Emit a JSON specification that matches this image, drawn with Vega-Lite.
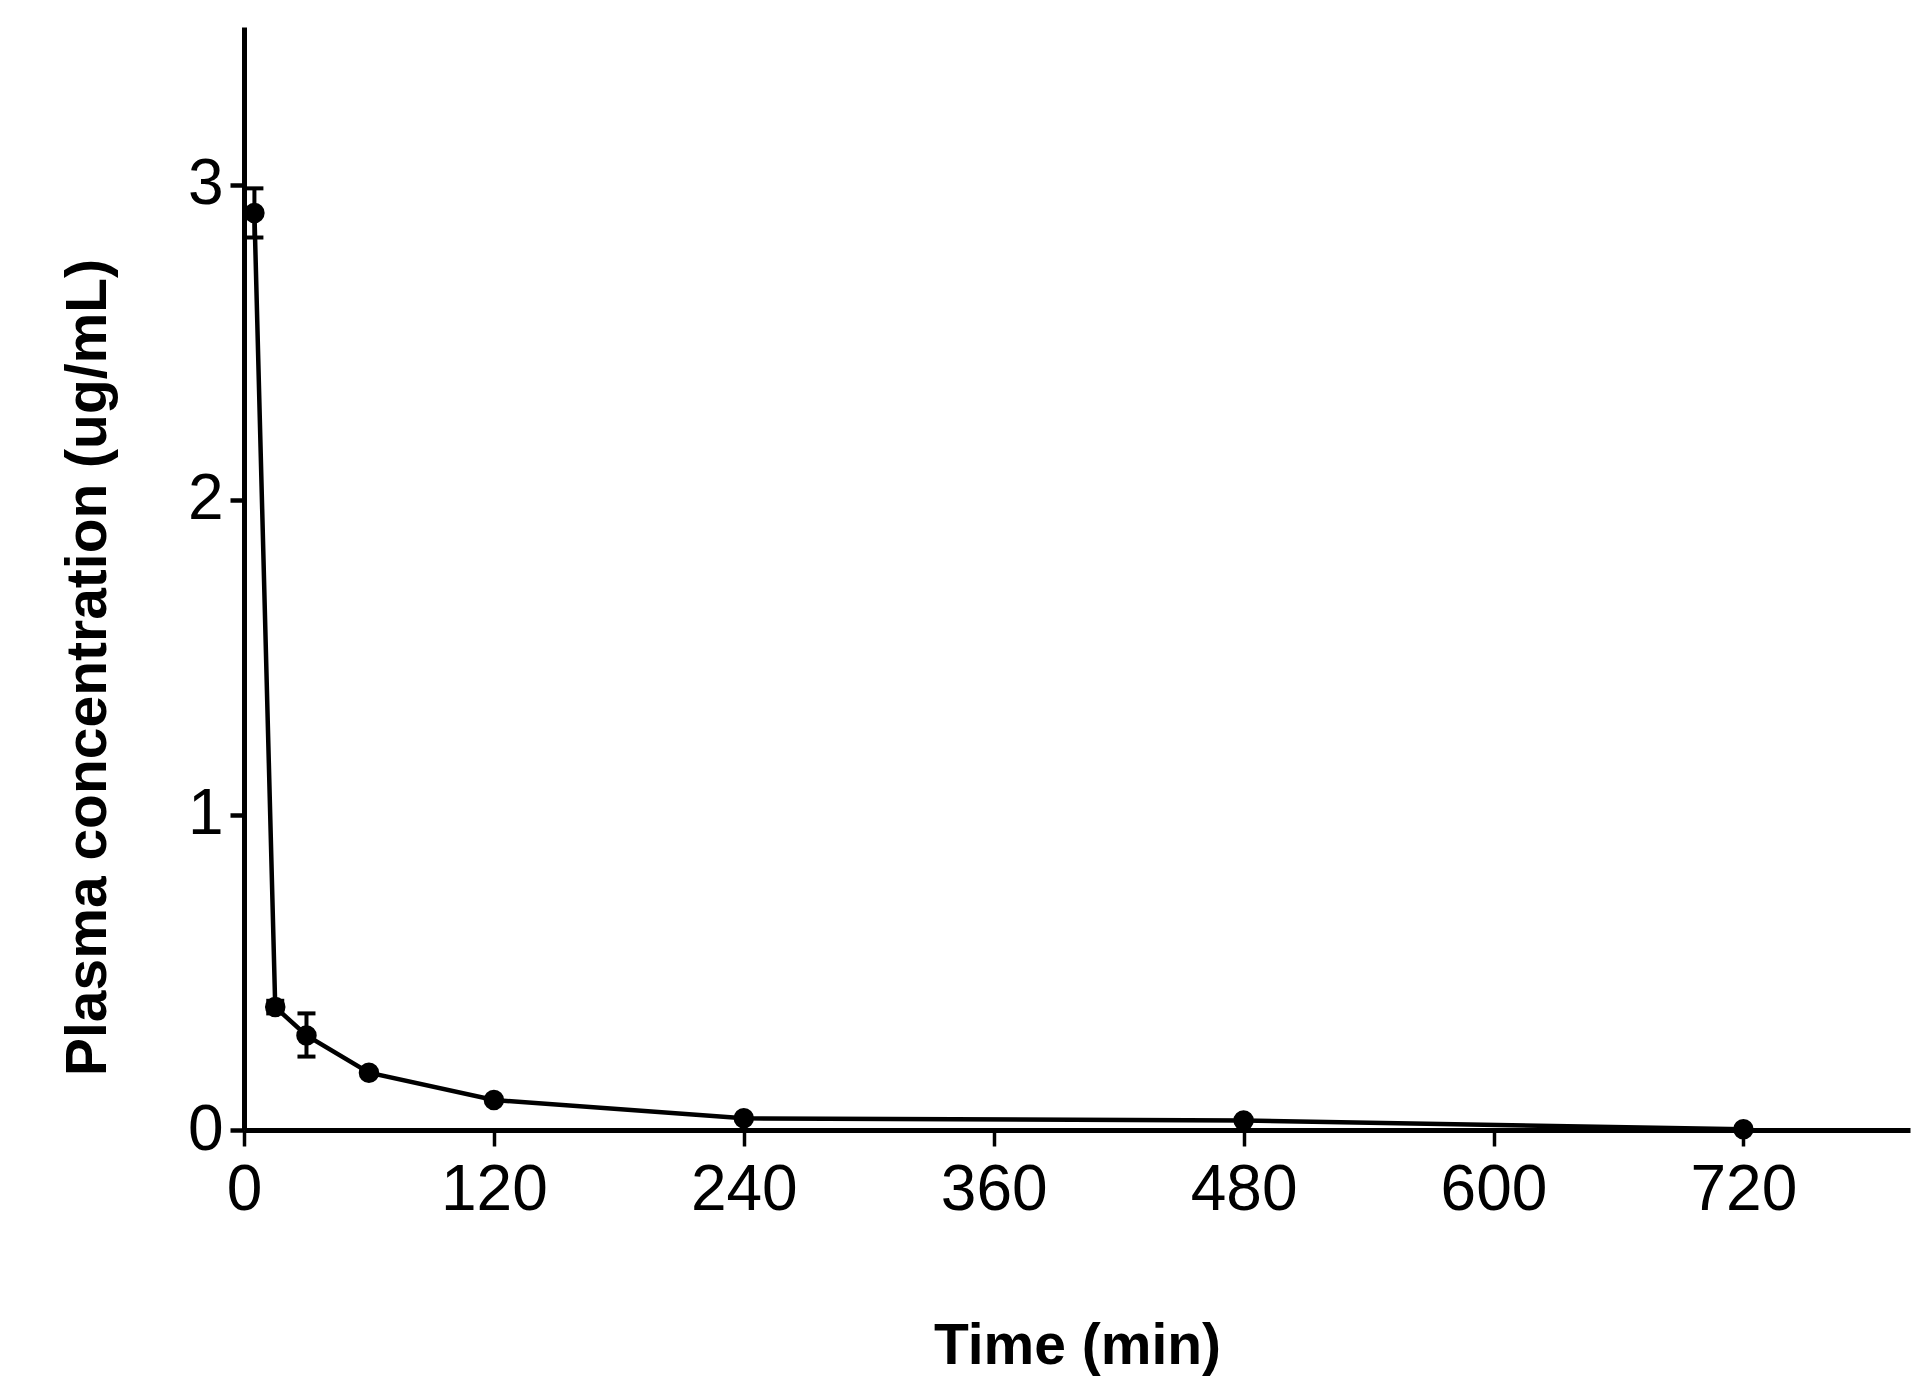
{
  "$schema": "https://vega.github.io/schema/vega-lite/v6.json",
  "autosize": {"type": "none"},
  "padding": {"left": 244, "top": 27, "right": 5, "bottom": 267},
  "width": 1666,
  "height": 1103,
  "background": "white",
  "data": {
    "values": [
      {"time": 5, "conc": 2.91, "lo": 2.832, "hi": 2.988},
      {"time": 15, "conc": 0.39, "lo": 0.37, "hi": 0.41},
      {"time": 30, "conc": 0.30, "lo": 0.233, "hi": 0.37},
      {"time": 60, "conc": 0.182},
      {"time": 120, "conc": 0.095},
      {"time": 240, "conc": 0.037},
      {"time": 480, "conc": 0.03},
      {"time": 720, "conc": 0.002}
    ]
  },
  "encoding": {
    "x": {
      "field": "time",
      "type": "quantitative",
      "scale": {"domain": [0, 800], "nice": false},
      "axis": {
        "title": "Time (min)",
        "values": [0, 120, 240, 360, 480, 600, 720],
        "labelFontSize": 64,
        "labelPadding": 12,
        "tickSize": 16,
        "tickWidth": 3.5,
        "titleBaseline": "alphabetic",
        "titleY": 233
      }
    },
    "y": {
      "field": "conc",
      "type": "quantitative",
      "scale": {"domain": [0, 3.5], "nice": false},
      "axis": {
        "title": "Plasma concentration (ug/mL)",
        "values": [0, 1, 2, 3],
        "labelFontSize": 64,
        "labelPadding": 7,
        "tickSize": 14,
        "tickWidth": 4.5,
        "titleAngle": 270,
        "titleAlign": "center",
        "titleBaseline": "alphabetic",
        "titleX": -139,
        "titleY": 640
      }
    }
  },
  "layer": [
    {"mark": {"type": "line", "color": "black", "strokeWidth": 4.5}},
    {
      "transform": [{"filter": "datum.lo != null"}],
      "mark": {
        "type": "errorbar",
        "color": "black",
        "opacity": 1,
        "thickness": 4,
        "rule": {"color": "black", "opacity": 1, "strokeWidth": 4},
        "ticks": {"size": 18, "thickness": 4, "color": "black", "opacity": 1}
      },
      "encoding": {
        "y": {"field": "lo", "type": "quantitative"},
        "y2": {"field": "hi"}
      }
    },
    {"mark": {"type": "circle", "color": "black", "opacity": 1, "size": 420}}
  ],
  "config": {
    "view": {"stroke": null},
    "font": "Liberation Sans",
    "axis": {
      "grid": false,
      "domainColor": "black",
      "domainWidth": 5,
      "tickColor": "black",
      "labelColor": "black",
      "labelFont": "Liberation Sans",
      "titleFont": "Liberation Sans",
      "titleFontSize": 57,
      "titleFontWeight": "bold",
      "titleColor": "black",
      "labelFlush": false,
      "labelOverlap": false
    }
  }
}
